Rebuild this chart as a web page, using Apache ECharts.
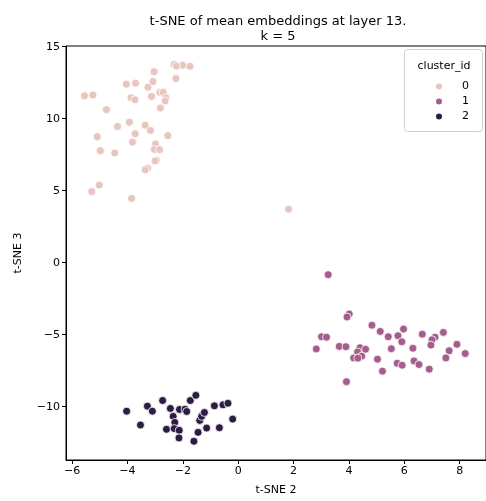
<!DOCTYPE html>
<html><head><meta charset="utf-8">
<script src="https://cdn.jsdelivr.net/npm/echarts@6/dist/echarts.min.js"></script>
<style>html,body{margin:0;padding:0;background:#fff}#c{width:486px;height:501px}</style>
</head><body><div id="c"></div>
<script>
const clusterNames = ['0','1','2'];
const clusterColors = ['#e8c5bf','#a55d8d','#2d1c42'];
const xTicks = [-6,-4,-2,0,2,4,6,8];
const yTicks = [-10,-5,0,5,10,15];

const cluster0X = [-2.31,-2.01,-1.74,-2.23,-3.04,-2.25,-4.04,-3.71,-3.08,-3.26,-5.55,-5.25,-2.83,-2.71,-3.87,-3.73,-3.13,-2.61,-2.64,-2.81,-4.76,-3.93,-4.36,-3.36,-3.17,-3.72,-5.09,-2.54,-3.82,-2.99,-4.98,-4.46,-3.03,-2.84,-2.95,-3.00,-3.27,-3.36,-5.02,-5.29,-3.85,1.82];
const cluster0Y = [13.77,13.71,13.64,13.66,13.27,12.79,12.40,12.47,12.58,12.19,11.59,11.64,11.83,11.83,11.45,11.32,11.55,11.45,11.23,10.74,10.63,9.76,9.46,9.55,9.18,8.95,8.75,8.82,8.38,8.24,7.78,7.62,7.87,7.85,7.11,7.07,6.56,6.45,5.39,4.94,4.46,3.72];

const cluster1X = [3.25,4.01,3.93,4.83,5.13,5.97,5.42,5.77,5.91,6.65,7.41,7.11,7.00,6.96,3.01,3.19,2.82,3.65,3.89,4.40,4.60,4.31,4.46,4.17,4.32,5.03,5.21,5.53,6.31,5.74,5.92,6.35,6.53,6.90,7.62,7.90,7.50,8.20,3.91];
const cluster1Y = [-0.83,-3.56,-3.77,-4.34,-4.77,-4.61,-5.14,-5.07,-5.49,-4.96,-4.84,-5.17,-5.35,-5.72,-5.14,-5.17,-5.99,-5.81,-5.83,-5.90,-6.01,-6.20,-6.49,-6.61,-6.63,-6.70,-7.53,-5.97,-5.94,-6.98,-7.12,-6.82,-7.07,-7.39,-6.11,-5.67,-6.61,-6.31,-8.26];

const cluster2X = [-4.03,-3.53,-3.28,-3.10,-2.73,-2.45,-2.12,-1.92,-1.86,-2.35,-2.29,-2.59,-2.31,-2.13,-2.14,-1.73,-1.53,-1.60,-1.45,-1.39,-1.32,-1.22,-1.14,-0.86,-0.68,-0.55,-0.37,-0.20];
const cluster2Y = [-10.31,-11.27,-9.96,-10.31,-9.57,-10.12,-10.19,-10.17,-10.33,-10.67,-11.09,-11.57,-11.52,-11.64,-12.17,-9.57,-9.21,-12.40,-11.78,-10.95,-10.67,-10.40,-11.48,-9.94,-11.46,-9.87,-9.76,-10.86];

const xs = [cluster0X, cluster1X, cluster2X];
const ys = [cluster0Y, cluster1Y, cluster2Y];
const font = 'DejaVu Sans';

const chart = echarts.init(document.getElementById('c'), null, {renderer:'canvas'});
const series = clusterNames.map((n,i)=>({
  name: n, type:'scatter',
  data: xs[i].map((x,k)=>[x, ys[i][k]]),
  symbolSize: 8,
  itemStyle:{color: clusterColors[i], borderColor:'#fff', borderWidth:0.8, opacity:1},
  emphasis:{disabled:true}
}));

chart.setOption({
  animation:false,
  backgroundColor:'#fff',
  title:{
    text:'t-SNE of mean embeddings at layer 13.\nk = 5',
    left: 273, top: 9, textAlign:'center',
    textStyle:{fontFamily:font, fontSize:13, fontWeight:'normal', color:'#000', lineHeight:15}
  },
  grid:{left:66, top:46, right:-2, bottom:37, show:true, borderColor:'#000', borderWidth:1, backgroundColor:'transparent'},
  xAxis:{
    type:'value', min:-6.22, max:8.95,
    name:'t-SNE 2', nameLocation:'middle', nameGap:25,
    nameTextStyle:{fontFamily:font, fontSize:11, color:'#000'},
    axisLine:{show:true, onZero:false, lineStyle:{color:'#000', width:1}},
    axisTick:{show:true, length:4, customValues:xTicks, lineStyle:{color:'#000'}},
    axisLabel:{fontFamily:font, fontSize:11, color:'#000', margin:6, customValues:xTicks,
      formatter:v=>String(v).replace('-','\u2212')},
    splitLine:{show:false}
  },
  yAxis:{
    type:'value', min:-13.7, max:15.05,
    name:'t-SNE 3', nameLocation:'middle', nameGap:42, nameRotate:90,
    nameTextStyle:{fontFamily:font, fontSize:11, color:'#000'},
    axisLine:{show:true, onZero:false, lineStyle:{color:'#000', width:1}},
    axisTick:{show:true, length:4, customValues:yTicks, lineStyle:{color:'#000'}},
    axisLabel:{fontFamily:font, fontSize:11, color:'#000', margin:6, customValues:yTicks,
      formatter:v=>String(v).replace('-','\u2212')},
    splitLine:{show:false}
  },
  legend:{
    orient:'vertical', left:429, top:76, z:50,
    data: clusterNames.map(n=>({name:n, icon:'circle'})),
    itemWidth:8, itemHeight:8, itemGap:4,
    textStyle:{fontFamily:font, fontSize:11, color:'#000', padding:[0,0,0,14]},
    selectedMode:false
  },
  graphic:[
    {type:'rect', shape:{x:404.5, y:49.5, width:78, height:82, r:3}, style:{fill:'rgba(255,255,255,0.8)', stroke:'#d0d0d0', lineWidth:1}, z:5},
    {type:'text', x:444, y:66, style:{text:'cluster_id', font:'11px "DejaVu Sans"', fill:'#000', align:'center', verticalAlign:'middle'}, z:60}
  ],
  series: series
});
</script></body></html>
